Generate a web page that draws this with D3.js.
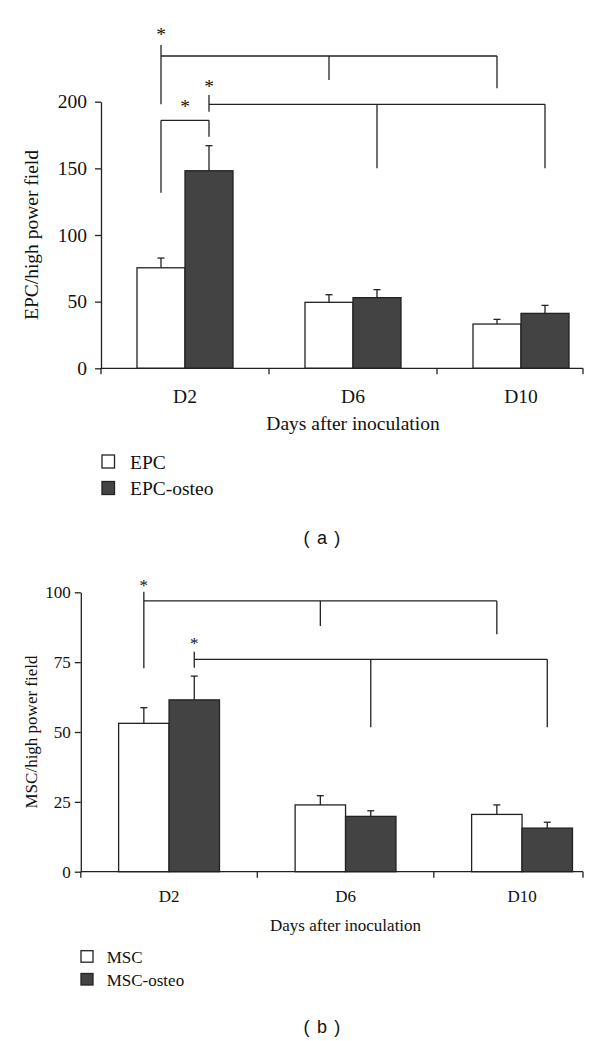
<!DOCTYPE html>
<html>
<head>
<meta charset="utf-8">
<script src="https://cdnjs.cloudflare.com/ajax/libs/d3/7.8.5/d3.min.js"></script>
<style>
  html, body { margin: 0; padding: 0; background: #fff; }
  svg { display: block; }
  text { fill: #111; }
</style>
</head>
<body>
<svg id="chart" width="600" height="1041"></svg>
<script>
// ---------------- DATA ----------------
const categories = ["D2", "D6", "D10"];

// Panel (a)
const seriesA = ["EPC", "EPC-osteo"];
const epcValues = [75.4, 49.5, 33.2];
const epcErrors = [7.3, 5.7, 3.5];
const epcOsteoValues = [148.2, 53.0, 41.2];
const epcOsteoErrors = [18.8, 6.0, 6.0];
const yTicksA = [0, 50, 100, 150, 200];
const yLabelA = "EPC/high power field";

// Panel (b)
const seriesB = ["MSC", "MSC-osteo"];
const mscValues = [53.1, 23.9, 20.5];
const mscErrors = [5.6, 3.3, 3.4];
const mscOsteoValues = [61.5, 19.8, 15.6];
const mscOsteoErrors = [8.5, 2.0, 2.1];
const yTicksB = [0, 25, 50, 75, 100];
const yLabelB = "MSC/high power field";

const xLabel = "Days after inoculation";

// Significance brackets (anchors: [category, series, bottom value]; heights in data units)
const bracketsA = [
  { anchors: [["D2", "EPC", 198], ["D6", "EPC", 216.3], ["D10", "EPC", 210]], level: 234.3, top: 242.5, star: 252.5, starAt: "first" },
  { anchors: [["D2", "EPC-osteo", 192.5], ["D6", "EPC-osteo", 150], ["D10", "EPC-osteo", 150]], level: 198, top: 205, star: 213.8, starAt: "first" },
  { anchors: [["D2", "EPC", 131.7], ["D2", "EPC-osteo", 173.7]], level: 186, top: null, star: 198.8, starAt: "mid" }
];
const bracketsB = [
  { anchors: [["D2", "MSC", 72.8], ["D6", "MSC", 87.9], ["D10", "MSC", 85.0]], level: 96.9, top: 100.2, star: 103.4, starAt: "first" },
  { anchors: [["D2", "MSC-osteo", 73.0], ["D6", "MSC-osteo", 51.7], ["D10", "MSC-osteo", 51.7]], level: 76.0, top: 78.7, star: 82.6, starAt: "first" }
];

// ---------------- LAYOUT ----------------
const svg = d3.select("#chart");
const LINE = "#222";
const DARK = "#434343";
const SERIF = "'Liberation Serif', 'Times New Roman', serif";
const SANS = "'Liberation Sans', Arial, sans-serif";

const panels = [
  {
    series: seriesA, values: [epcValues, epcOsteoValues], errors: [epcErrors, epcOsteoErrors],
    yTicks: yTicksA, yLabel: yLabelA, brackets: bracketsA, tag: "( a )",
    x: [101, 605], xAxisEnd: 583, y: [368.3, 101.7], fs: 19.5,
    tickLabelGap: 14, yLabelX: 31, xTickBase: 402.7, xTitleBase: 430,
    legend: { x: 102, y: 455, sw: 12.5, sh: 13, tx: 130, gap: 26.5, fs: 19.5 },
    tagY: 543.5
  },
  {
    series: seriesB, values: [mscValues, mscOsteoValues], errors: [mscErrors, mscOsteoErrors],
    yTicks: yTicksB, yLabel: yLabelB, brackets: bracketsB, tag: "( b )",
    x: [80.8, 610.3], xAxisEnd: 583, y: [871.7, 592.3], fs: 17,
    tickLabelGap: 10, yLabelX: 31, xTickBase: 902.3, xTitleBase: 930.5,
    legend: { x: 81, y: 950.7, sw: 12, sh: 11.5, tx: 106.7, gap: 22.8, fs: 17 },
    tagY: 1032.5
  }
];

panels.forEach(p => {
  const g = svg.append("g");
  const yMax = p.yTicks[p.yTicks.length - 1];
  const x0 = d3.scaleBand().domain(categories).range(p.x).paddingInner(0).paddingOuter(0);
  const x1 = d3.scaleBand().domain(p.series).range([0, x0.bandwidth()]).paddingInner(0).paddingOuter(0.75);
  const y = d3.scaleLinear().domain([0, yMax]).range(p.y);
  const cx = (cat, s) => x0(cat) + x1(s) + x1.bandwidth() / 2;

  // Bars
  p.series.forEach((s, si) => {
    const rows = categories.map((c, ci) => ({ c, v: p.values[si][ci], e: p.errors[si][ci] }));
    g.selectAll(null).data(rows).enter().append("rect")
      .attr("x", d => x0(d.c) + x1(s))
      .attr("y", d => y(d.v))
      .attr("width", x1.bandwidth())
      .attr("height", d => y(0) - y(d.v))
      .attr("fill", si === 0 ? "#fff" : DARK)
      .attr("stroke", LINE).attr("stroke-width", 1.3);
    // Error bars (upper only)
    g.selectAll(null).data(rows).enter().append("line")
      .attr("x1", d => cx(d.c, s)).attr("x2", d => cx(d.c, s))
      .attr("y1", d => y(d.v)).attr("y2", d => y(d.v + d.e))
      .attr("stroke", LINE).attr("stroke-width", 1.3);
    g.selectAll(null).data(rows).enter().append("line")
      .attr("x1", d => cx(d.c, s) - 3.5).attr("x2", d => cx(d.c, s) + 3.5)
      .attr("y1", d => y(d.v + d.e)).attr("y2", d => y(d.v + d.e))
      .attr("stroke", LINE).attr("stroke-width", 1.3);
  });

  // Y axis
  const yAxis = d3.axisLeft(y).tickValues(p.yTicks).tickSize(6).tickSizeOuter(0).tickPadding(p.tickLabelGap - 6);
  const ya = g.append("g").attr("transform", `translate(${p.x[0]},0)`).call(yAxis);
  ya.select(".domain").attr("stroke", LINE).attr("stroke-width", 1.3);
  ya.selectAll(".tick line").attr("stroke", LINE).attr("stroke-width", 1.3);
  ya.selectAll(".tick text").attr("font-family", SERIF).attr("font-size", p.fs).attr("fill", "#111");

  // X axis (manual, ticks at band boundaries)
  g.append("line").attr("x1", p.x[0]).attr("x2", p.xAxisEnd).attr("y1", y(0)).attr("y2", y(0))
    .attr("stroke", LINE).attr("stroke-width", 1.3);
  const xt = categories.map(c => x0(c)).concat([p.xAxisEnd]);
  g.selectAll(null).data(xt).enter().append("line")
    .attr("x1", d => d).attr("x2", d => d).attr("y1", y(0)).attr("y2", y(0) + 6)
    .attr("stroke", LINE).attr("stroke-width", 1.3);
  g.selectAll(null).data(categories).enter().append("text")
    .attr("x", c => x0(c) + x0.bandwidth() / 2).attr("y", p.xTickBase)
    .attr("text-anchor", "middle").attr("font-family", SERIF).attr("font-size", p.fs).text(c => c);
  g.append("text").attr("x", (p.x[0] + p.x[1]) / 2).attr("y", p.xTitleBase)
    .attr("text-anchor", "middle").attr("font-family", SERIF).attr("font-size", p.fs).text(xLabel);

  // Y title
  g.append("text")
    .attr("transform", `translate(${p.yLabelX},${(p.y[0] + p.y[1]) / 2}) rotate(-90)`)
    .attr("text-anchor", "middle").attr("dy", "0.35em")
    .attr("font-family", SERIF).attr("font-size", p.fs).text(p.yLabel);

  // Brackets
  p.brackets.forEach(b => {
    const xs = b.anchors.map(a => cx(a[0], a[1]));
    const yl = y(b.level);
    g.append("line").attr("x1", xs[0]).attr("x2", xs[xs.length - 1]).attr("y1", yl).attr("y2", yl)
      .attr("stroke", LINE).attr("stroke-width", 1.3);
    b.anchors.forEach((a, i) => {
      const yTop = (i === 0 && b.top != null) ? y(b.top) : yl;
      g.append("line").attr("x1", xs[i]).attr("x2", xs[i]).attr("y1", yTop).attr("y2", y(a[2]))
        .attr("stroke", LINE).attr("stroke-width", 1.3);
    });
    const sx = b.starAt === "first" ? xs[0] : (xs[0] + xs[xs.length - 1]) / 2;
    g.append("text").attr("x", sx).attr("y", y(b.star) + p.fs * 0.5)
      .attr("text-anchor", "middle").attr("font-family", SERIF).attr("font-size", p.fs).text("*");
  });

  // Legend
  const L = p.legend;
  p.series.forEach((s, si) => {
    g.append("rect").attr("x", L.x).attr("y", L.y + si * L.gap).attr("width", L.sw).attr("height", L.sh)
      .attr("fill", si === 0 ? "#fff" : DARK).attr("stroke", LINE).attr("stroke-width", 1.3);
    g.append("text").attr("x", L.tx).attr("y", L.y + L.sh + si * L.gap + 0.5)
      .attr("font-family", SERIF).attr("font-size", L.fs).text(s);
  });

  // Panel tag
  g.append("text").attr("x", 322.5).attr("y", p.tagY).attr("text-anchor", "middle")
    .attr("font-family", SANS).attr("font-size", 18).attr("letter-spacing", 1.2).text(p.tag);
});
</script>
</body>
</html>
